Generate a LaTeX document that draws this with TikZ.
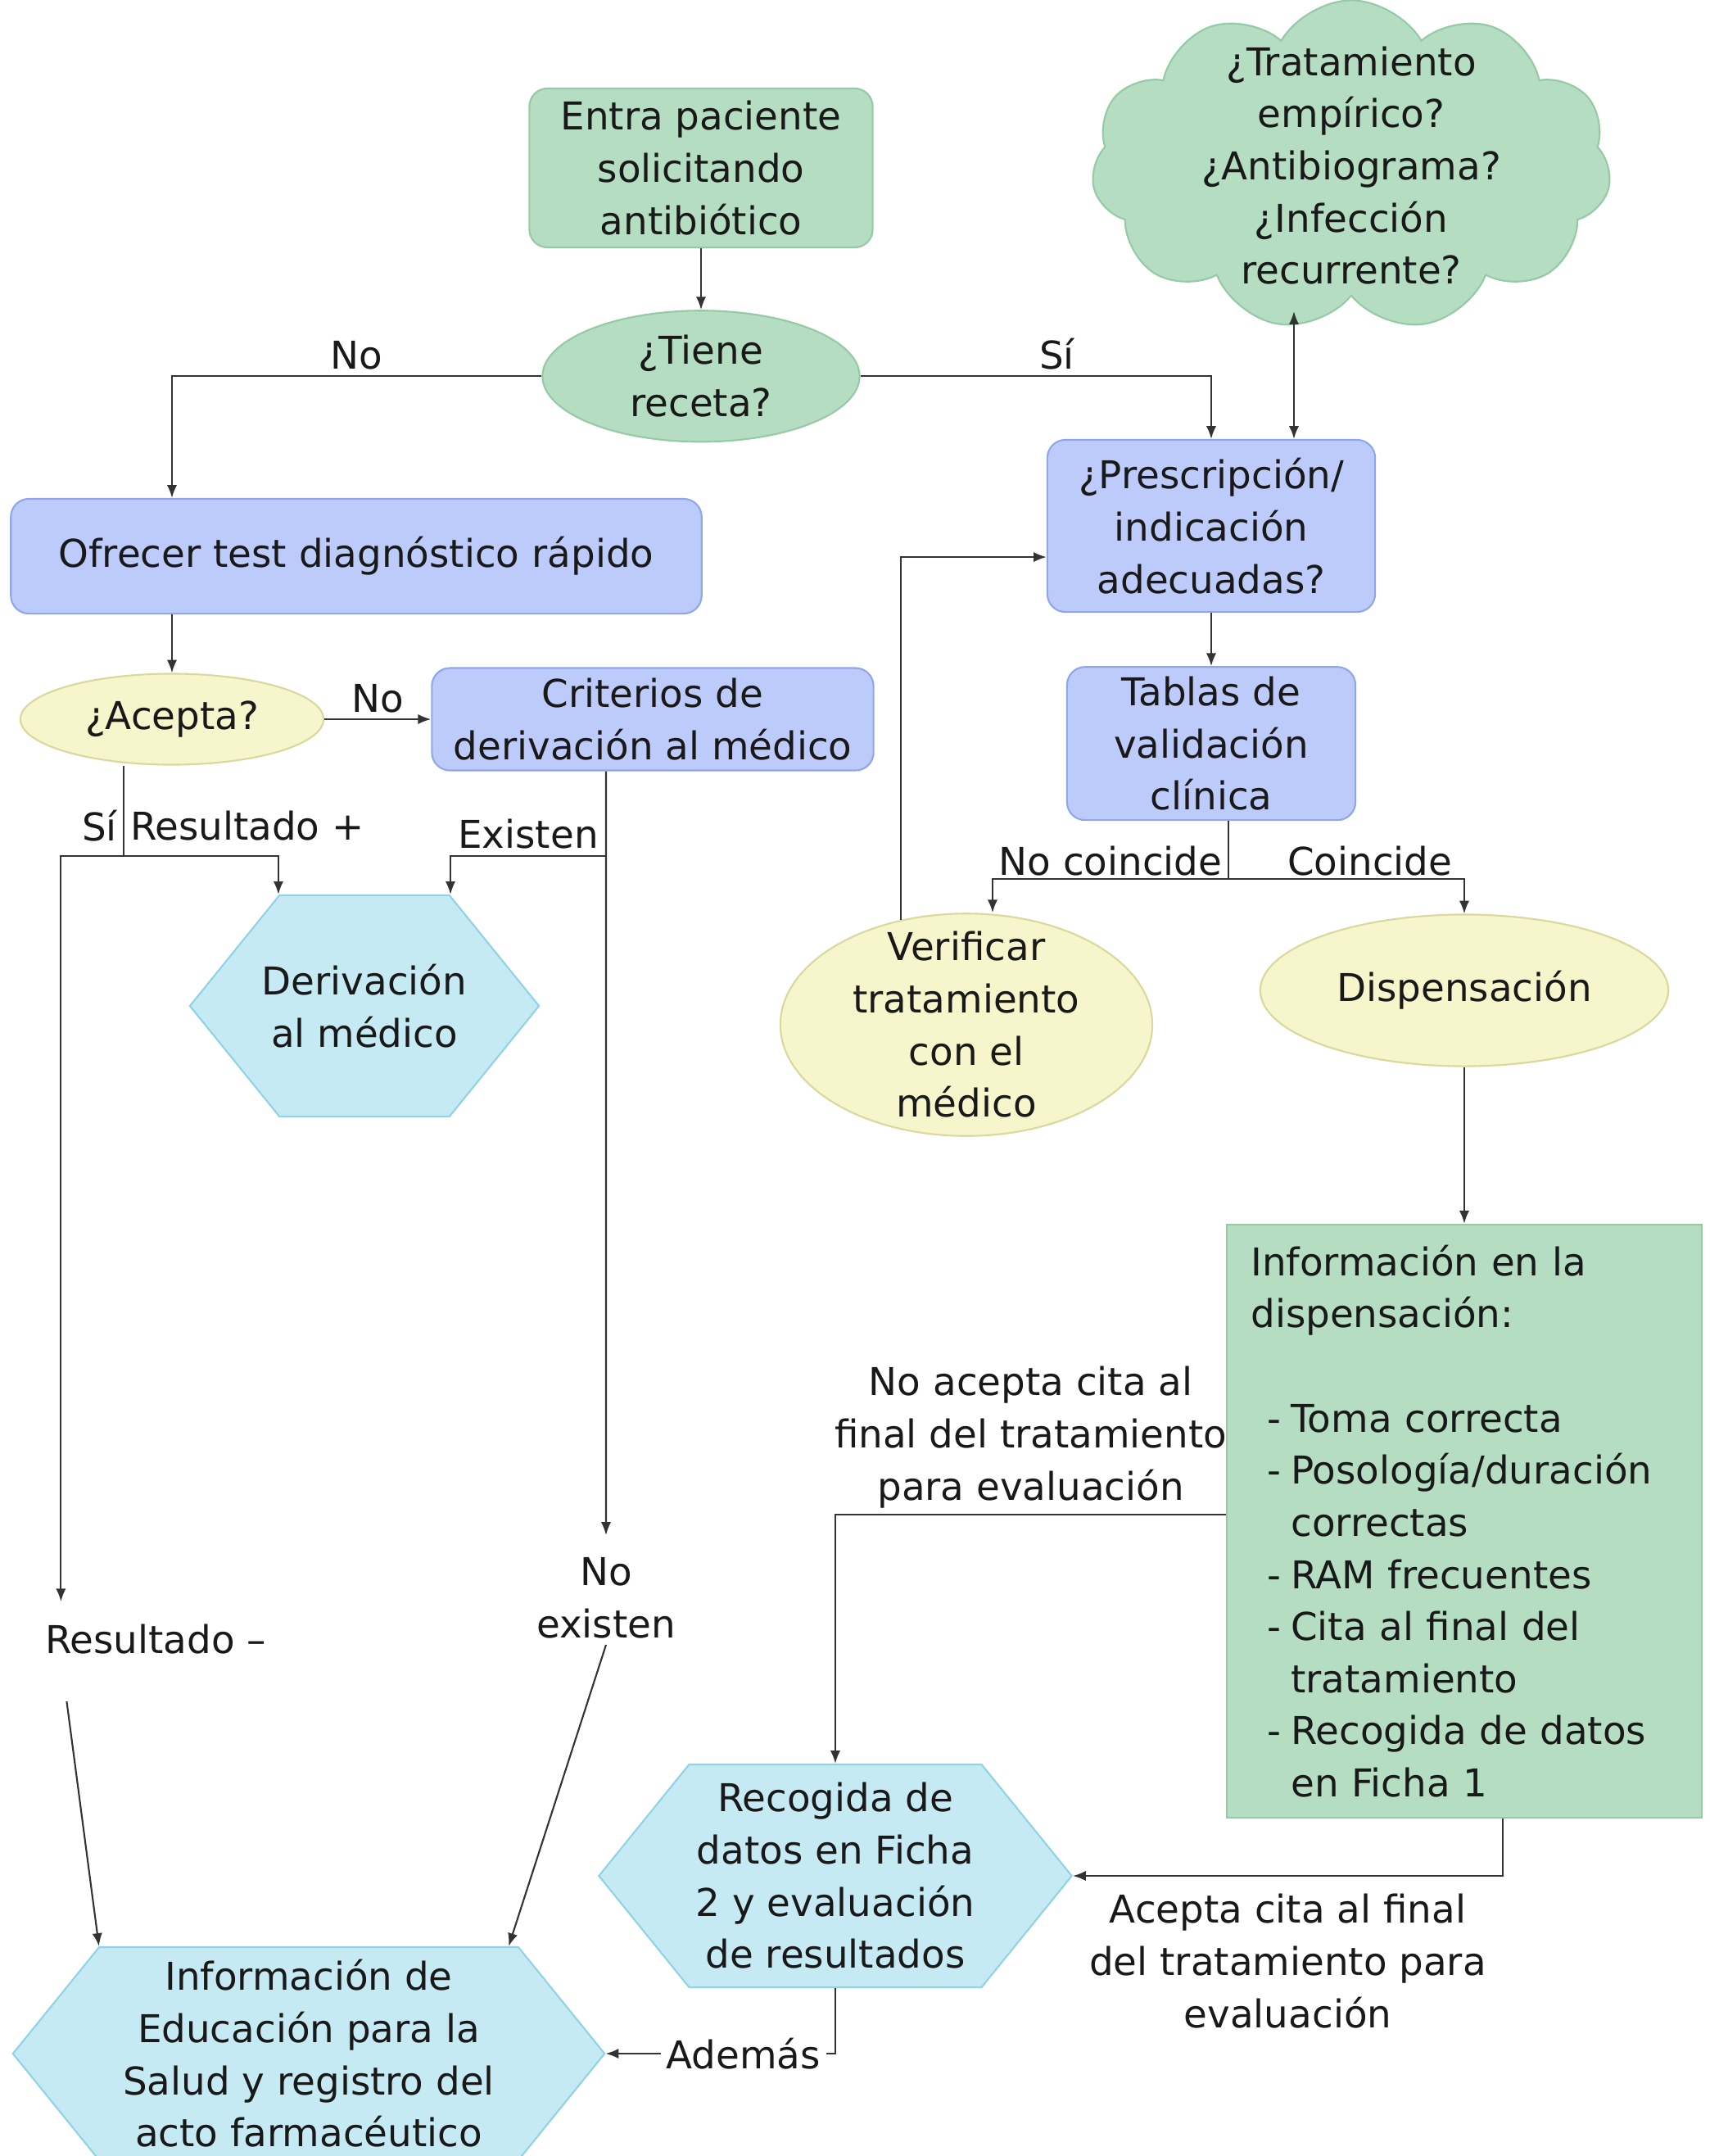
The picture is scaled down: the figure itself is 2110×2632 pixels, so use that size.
\documentclass[tikz,border=0pt]{standalone}
\usepackage{fontspec}
\setmainfont{DejaVu Sans}
\usetikzlibrary{arrows.meta, positioning, shapes.geometric, shapes.symbols}

\definecolor{boxgreen}{HTML}{B5DDC2}
\definecolor{edgegreen}{HTML}{96C9A6}
\definecolor{boxblue}{HTML}{BDCBFB}
\definecolor{edgeblue}{HTML}{8EA7EA}
\definecolor{boxyellow}{HTML}{F6F5CB}
\definecolor{edgeyellow}{HTML}{DAD89C}
\definecolor{boxcyan}{HTML}{C6EAF3}
\definecolor{edgecyan}{HTML}{8FD3E6}

\newcommand{\guion}{\hspace*{0.2cm}-\hspace{0.12cm}}
\newcommand{\sangria}{\hspace*{0.49cm}}

\begin{document}
\begin{tikzpicture}[x=0.01cm, y=-0.01cm,
  every node/.style={font=\fontsize{13.3}{18.1}\selectfont, align=center, text=black!90},
  greenbox/.style={draw=edgegreen, fill=boxgreen, line width=0.6pt},
  bluebox/.style={draw=edgeblue, fill=boxblue, rounded corners=0.22cm, line width=0.6pt},
  yellowell/.style={ellipse, draw=edgeyellow, fill=boxyellow, line width=0.6pt},
  hexa/.style={signal, signal to=east and west, signal pointer angle=102,
    draw=edgecyan, fill=boxcyan, line width=0.6pt, inner ysep=1pt},
  nube/.style={cloud, cloud puffs=11, cloud puff arc=120, cloud ignores aspect,
    draw=edgegreen, fill=boxgreen, line width=0.6pt},
  lbl/.style={inner sep=2pt},
  arr/.style={-{Latex[length=4.5pt,width=3.5pt]}, line width=0.6pt, draw=black!80},
  line/.style={line width=0.6pt, draw=black!80}]

\useasboundingbox (0,0) rectangle (2110,2632);

\node[greenbox, rounded corners=0.22cm, minimum width=4.19cm, minimum height=1.94cm] (entra) at (856,205) {Entra paciente\\solicitando\\antibiótico};
\node[greenbox, ellipse, inner sep=1pt, minimum width=3.87cm, minimum height=1.60cm, below=0.75cm of entra] (receta) {¿Tiene\\receta?};
\node[nube, inner xsep=-0.3cm, inner ysep=-0.6cm, minimum width=6.34cm, minimum height=4.03cm] (dudas) at (1650,202) {¿Tratamiento\\empírico?\\¿Antibiograma?\\¿Infección\\recurrente?};

\node[bluebox, minimum width=8.43cm, minimum height=1.40cm] (ofrecer) at (435,679) {Ofrecer test diagnóstico rápido};
\node[yellowell, minimum width=3.7cm, minimum height=1.11cm] (acepta) at (210,878) {¿Acepta?};
\node[bluebox, minimum width=5.39cm, minimum height=1.25cm] (criterios) at (797,878) {Criterios de\\derivación al médico};
\node[hexa, inner xsep=-0.25cm, minimum width=4.26cm, minimum height=2.70cm] (derivacion) at (445,1228) {Derivación\\al médico};
\node[lbl] (resneg) at (190,2001) {Resultado –};
\node[lbl] (noexisten) at (740,1951) {No\\existen};
\node[hexa, minimum width=7.22cm, minimum height=2.60cm] (educacion) at (377,2507) {Información de\\Educación para la\\Salud y registro del\\acto farmacéutico};

\node[bluebox, minimum width=4.00cm, minimum height=2.10cm] (prescripcion) at (1479,642) {¿Prescripción/\\indicación\\adecuadas?};
\node[bluebox, minimum width=3.52cm, minimum height=1.85cm, below=0.65cm of prescripcion] (tablas) {Tablas de\\validación\\clínica};
\node[yellowell, inner xsep=0pt, inner ysep=-5pt, minimum width=4.54cm, minimum height=2.71cm] (verificar) at (1180,1251) {Verificar\\tratamiento\\con el\\médico};
\node[yellowell, minimum width=4.98cm, minimum height=1.85cm] (dispensacion) at (1788,1209) {Dispensación};
\node[greenbox, text width=5.21cm, inner xsep=0.29cm, align=left, minimum height=7.24cm, below=1.91cm of dispensacion] (informacion) {Información en la\\dispensación:\\[18.1pt]
  \guion Toma correcta\\
  \guion Posología/duración\\\sangria correctas\\
  \guion RAM frecuentes\\
  \guion Cita al final del\\\sangria tratamiento\\
  \guion Recogida de datos\\\sangria en Ficha 1};
\node[hexa, inner xsep=-0.15cm, minimum width=5.77cm, minimum height=2.72cm] (recogida) at (1020,2290) {Recogida de\\datos en Ficha\\2 y evaluación\\de resultados};

\draw[arr] (entra) -- (receta);
\draw[arr] (receta.west) -| (ofrecer.north -| acepta) node[lbl, pos=0.25, above] {No};
\draw[arr] (receta.east) -| (prescripcion.north) node[lbl, pos=0.28, above] {Sí};
\coordinate (pie) at (1580,380);
\draw[{Latex[length=4.5pt,width=3.5pt]}-{Latex[length=4.5pt,width=3.5pt]}, line] (pie) -- (pie |- prescripcion.north);

\draw[arr] (ofrecer.south -| acepta) -- (acepta);
\draw[arr] (acepta) -- (criterios) node[lbl, midway, above] {No};
\draw[line] ([xshift=-0.59cm]acepta.south) -- node[lbl, pos=0.67, left] {Sí} node[lbl, pos=0.67, right] {Resultado +} ++(0,-1.10cm) coordinate (cruceSi);
\draw[arr] (cruceSi) -| ([xshift=-1.05cm]derivacion.north);
\draw[arr] (cruceSi) -| ([xshift=0.27cm, yshift=0.2cm]resneg.north west);
\coordinate (cruceEx) at ([xshift=-0.57cm]criterios.south |- cruceSi);
\draw[arr] ([xshift=-0.57cm]criterios.south) -- ([yshift=0.2cm]noexisten.north);
\draw[arr] (cruceEx) -| ([xshift=1.05cm]derivacion.north) node[lbl, pos=0.25, above] {Existen};
\draw[arr] ([xshift=0.34cm, yshift=-0.5cm]resneg.south west) -- ([xshift=-2.56cm]educacion.north);
\draw[arr] (noexisten.south) -- ([xshift=2.44cm]educacion.north);

\draw[arr] (prescripcion) -- (tablas);
\draw[line] ([xshift=0.21cm]tablas.south) -- ++(0,-0.71cm) coordinate (cruceTab);
\draw[arr] (cruceTab) -| ([xshift=0.32cm]verificar.north) node[lbl, pos=0.25, above, inner sep=1pt] {No coincide};
\draw[arr] (cruceTab) -| (dispensacion.north) node[lbl, pos=0.3, above, inner sep=1pt] {Coincide};
\draw[arr] (verificar.122) |- ([yshift=-0.38cm]prescripcion.west);
\draw[arr] (dispensacion) -- (informacion);
\draw[arr] ([yshift=0.08cm]informacion.west) -| (recogida.north) node[lbl, pos=0.25, above] {No acepta cita al\\final del tratamiento\\para evaluación};
\draw[arr] ([xshift=0.47cm]informacion.south) |- (recogida.east) node[lbl, pos=0.75, below=4pt] {Acepta cita al final\\del tratamiento para\\evaluación};
\draw[arr] (recogida.south) |- (educacion.east) node[lbl, pos=0.7, fill=white, inner xsep=2pt] {Además};
\end{tikzpicture}
\end{document}
